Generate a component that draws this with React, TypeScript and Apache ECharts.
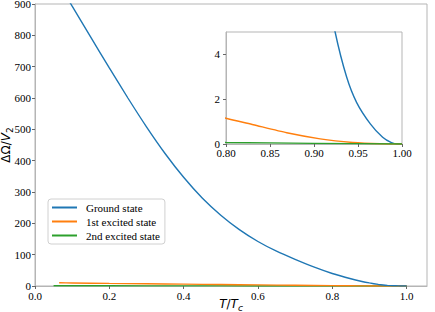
import React, { useEffect, useRef } from "react";
import * as echarts from "echarts";

const groundState: [number, number][] = [
  [0.05, 995], [0.1, 893], [0.15, 794], [0.2, 696], [0.25, 600], [0.3, 508],
  [0.35, 423], [0.4, 347], [0.45, 281], [0.5, 226], [0.55, 180], [0.6, 142],
  [0.65, 111], [0.7, 85], [0.75, 61], [0.8, 40], [0.85, 23], [0.88, 14.5],
  [0.9, 9.8], [0.924, 5], [0.937, 3.0], [0.9485, 1.85], [0.964, 0.9],
  [0.978, 0.3], [0.988, 0.06], [0.995, 0], [1.0, 0],
];
const firstExcited: [number, number][] = [
  [0.065, 10.2], [0.1, 9.6], [0.2, 8.3], [0.3, 7.1], [0.4, 5.9], [0.5, 4.7],
  [0.6, 3.5], [0.7, 2.3], [0.8, 1.15], [0.831, 0.86], [0.869, 0.5],
  [0.907, 0.23], [0.944, 0.07], [0.975, 0.01], [1.0, 0],
];
const secondExcited: [number, number][] = [
  [0.05, 1.0], [0.2, 0.7], [0.4, 0.4], [0.6, 0.2], [0.8, 0.07], [0.9, 0.03], [1.0, 0],
];
const seriesNames = ["Ground state", "1st excited state", "2nd excited state"];
const seriesColors = ["#1f77b4", "#ff7f0e", "#2ca02c"];
const seriesData = [groundState, firstExcited, secondExcited];

const SERIF = "'Times New Roman', 'Liberation Serif', 'DejaVu Serif', serif";
const SANS = "'DejaVu Sans', sans-serif";
const FRAME = "#b5b5b5";
const TICK = "#666";

export default function App() {
  const ref = useRef<HTMLDivElement>(null);
  useEffect(() => {
    if (!ref.current) return;
    const chart = echarts.init(ref.current, undefined, { renderer: "svg" });
    const axisCommon = {
      axisLine: { show: true, onZero: false, lineStyle: { color: FRAME, width: 1 } },
      axisTick: { show: true, inside: false, length: 3, lineStyle: { color: TICK } },
      splitLine: { show: false },
      axisLabel: { color: "#000", fontFamily: SERIF, fontSize: 11 },
    };
    const makeSeries = (axisIdx: number, zBase: number) =>
      seriesData.map((d, i) => ({
        type: "line",
        name: seriesNames[i],
        data: d,
        xAxisIndex: axisIdx,
        yAxisIndex: axisIdx,
        showSymbol: false,
        smooth: 0.2,
        lineStyle: { color: seriesColors[i], width: 1.4 },
        itemStyle: { color: seriesColors[i] },
        clip: true,
        z: zBase + (axisIdx === 0 ? 2 - i : i),
      }));
    const rich = {
      i: { fontFamily: SANS, fontStyle: "italic", fontSize: 12, color: "#000", verticalAlign: "top", lineHeight: 14 },
      n: { fontFamily: SANS, fontSize: 12, color: "#000", verticalAlign: "top", lineHeight: 14 },
      s: { fontFamily: SANS, fontSize: 9, color: "#000", verticalAlign: "bottom", lineHeight: 10 },
      si: { fontFamily: SANS, fontStyle: "italic", fontSize: 9, color: "#000", verticalAlign: "bottom", lineHeight: 10 },
    };
    chart.setOption({
      animation: false,
      backgroundColor: "#fff",
      textStyle: { fontFamily: SERIF },
      grid: [
        { left: 35, top: 4, right: 8, bottom: 26, show: true, borderColor: FRAME, borderWidth: 1, backgroundColor: "#fff", outerBoundsMode: "none", containLabel: false, z: 0 },
        { left: 226, top: 32, width: 176, height: 112, show: true, borderColor: FRAME, borderWidth: 1, backgroundColor: "#fff", outerBoundsMode: "none", containLabel: false, z: 10 },
      ],
      legend: {
        data: seriesNames,
        orient: "vertical",
        left: 48,
        top: 199,
        icon: "rect",
        itemWidth: 25,
        itemHeight: 2,
        itemGap: 3,
        padding: [3, 5, 3, 4],
        backgroundColor: "rgba(255,255,255,0.85)",
        borderColor: "#d0d0d0",
        borderWidth: 1,
        borderRadius: 3,
        textStyle: { fontFamily: SERIF, fontSize: 11, color: "#000", padding: [0, 0, 0, 4] },
        z: 20,
      },
      xAxis: [
        {
          ...axisCommon,
          type: "value",
          gridIndex: 0,
          min: 0,
          max: 1.055,
          interval: 0.2,
          axisLabel: { ...axisCommon.axisLabel, margin: 4, showMaxLabel: false, formatter: (v: number) => v.toFixed(1) },
          name: "{i|T}{n|/}{i|T}{si|c}",
          nameLocation: "middle",
          nameGap: 12,
          nameMoveOverlap: false,
          nameTextStyle: { rich },
        },
        {
          ...axisCommon,
          type: "value",
          gridIndex: 1,
          min: 0.8,
          max: 1.0,
          interval: 0.05,
          axisLabel: { ...axisCommon.axisLabel, margin: 3, formatter: (v: number) => v.toFixed(2) },
          z: 10,
        },
      ],
      yAxis: [
        {
          ...axisCommon,
          type: "value",
          gridIndex: 0,
          min: 0,
          max: 900,
          interval: 100,
          axisLabel: { ...axisCommon.axisLabel, margin: 4 },
          name: "{n|ΔΩ/}{i|V}{s|2}",
          nameLocation: "middle",
          nameRotate: 90,
          nameGap: 21,
          nameMoveOverlap: false,
          nameTextStyle: { rich },
        },
        {
          ...axisCommon,
          type: "value",
          gridIndex: 1,
          min: 0,
          max: 5,
          interval: 2,
          axisLabel: { ...axisCommon.axisLabel, margin: 6, showMaxLabel: false },
          z: 10,
        },
      ],
      series: [...makeSeries(0, 3), ...makeSeries(1, 12)],
    });
    return () => chart.dispose();
  }, []);
  return <div ref={ref} style={{ width: 435, height: 312, position: "absolute", left: 0, top: 0 }} />;
}
